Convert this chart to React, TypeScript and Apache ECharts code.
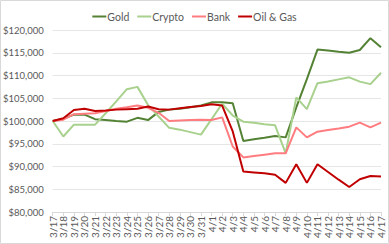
import React, { useEffect, useRef } from "react";
import * as echarts from "echarts";

const dates = [
  "3/17", "3/18", "3/19", "3/20", "3/21", "3/22", "3/23", "3/24", "3/25", "3/26",
  "3/27", "3/28", "3/29", "3/30", "3/31", "4/1", "4/2", "4/3", "4/4", "4/5",
  "4/6", "4/7", "4/8", "4/9", "4/10", "4/11", "4/12", "4/13", "4/14", "4/15",
  "4/16", "4/17",
];

const gold = [
  100000, 100500, 101400, 101400, 100400, 100200, 100000, 99850, 100700, 100200,
  102000, 102500, 102700, 103000, 103400, 104100, 104100, 103900, 95600, 96000,
  96300, 96700, 96400, 103000, 109200, 115700, 115500, 115200, 115000, 115600,
  118200, 116200,
];

const crypto = [
  100000, 96600, 99200, 99200, 99200, 101700, 104300, 107000, 107500, 103500,
  101000, 98500, 98100, 97550, 97000, 100400, 103800, 101200, 99850, 99600,
  99300, 99050, 92900, 105200, 102600, 108300, 108700, 109150, 109600, 108650,
  108100, 110600,
];

const bank = [
  100000, 100300, 101500, 101600, 101700, 102200, 102700, 103000, 103400, 102900,
  101800, 100000, 100100, 100200, 100300, 100200, 100800, 94400, 92000, 92300,
  92600, 92900, 92900, 98600, 96400, 97650, 98000, 98350, 98750, 99630,
  98610, 99630,
];

const oilGas = [
  100000, 100600, 102400, 102700, 102200, 102300, 102500, 102600, 102700, 103200,
  102600, 102500, 102800, 103100, 103300, 103700, 103400, 97700, 88900, 88700,
  88500, 88200, 86400, 90500, 86400, 90500, 88800, 87100, 85500, 87200,
  87900, 87800,
];

const seriesNames = ["Gold", "Crypto", "Bank", "Oil & Gas"];
const seriesColors = ["#548235", "#A9D18E", "#FF7C80", "#C00000"];
const seriesData = [gold, crypto, bank, oilGas];

const FONT = "Lato, 'Open Sans', sans-serif";

export default function App() {
  const ref = useRef<HTMLDivElement>(null);

  useEffect(() => {
    if (!ref.current) return;
    const chart = echarts.init(ref.current, undefined, { renderer: "svg" });
    chart.setOption({
      animation: false,
      backgroundColor: "#ffffff",
      textStyle: { fontFamily: FONT },
      graphic: [
        {
          type: "rect",
          shape: { x: 0.5, y: 0.5, width: 388, height: 243 },
          style: { fill: "none", stroke: "#d9d9d9", lineWidth: 1 },
          silent: true,
        },
      ],
      legend: {
        top: 6,
        left: "center",
        icon: "rect",
        itemWidth: 14,
        itemHeight: 2,
        itemGap: 8,
        textStyle: {
          color: "#595959",
          fontSize: 10.5,
          fontFamily: FONT,
          padding: [0, 0, 0, -4],
        },
        data: seriesNames,
      },
      grid: { left: 49, right: 8, top: 30, bottom: 32 },
      xAxis: {
        type: "category",
        data: dates,
        boundaryGap: false,
        axisLine: { lineStyle: { color: "#d9d9d9" } },
        axisTick: { show: true, alignWithLabel: true, length: 4, lineStyle: { color: "#d9d9d9" } },
        axisLabel: {
          rotate: 90,
          interval: 0,
          color: "#595959",
          fontSize: 10,
          margin: 4,
          fontFamily: FONT,
        },
      },
      yAxis: {
        type: "value",
        min: 80000,
        max: 120000,
        interval: 5000,
        axisLine: { show: false },
        axisTick: { show: false },
        splitLine: { lineStyle: { color: "#e6e6e6" } },
        axisLabel: {
          color: "#595959",
          fontSize: 9.5,
          margin: 9,
          fontFamily: FONT,
          formatter: (v: number) => "$" + v.toLocaleString("en-US"),
        },
      },
      series: seriesNames.map((name, i) => ({
        name,
        type: "line",
        data: seriesData[i],
        showSymbol: false,
        symbol: "none",
        smooth: false,
        lineStyle: { color: seriesColors[i], width: 2 },
        itemStyle: { color: seriesColors[i] },
      })),
    });
    return () => chart.dispose();
  }, []);

  return (
    <div
      ref={ref}
      style={{ position: "absolute", left: 0, top: 0, width: 389, height: 244 }}
    />
  );
}
